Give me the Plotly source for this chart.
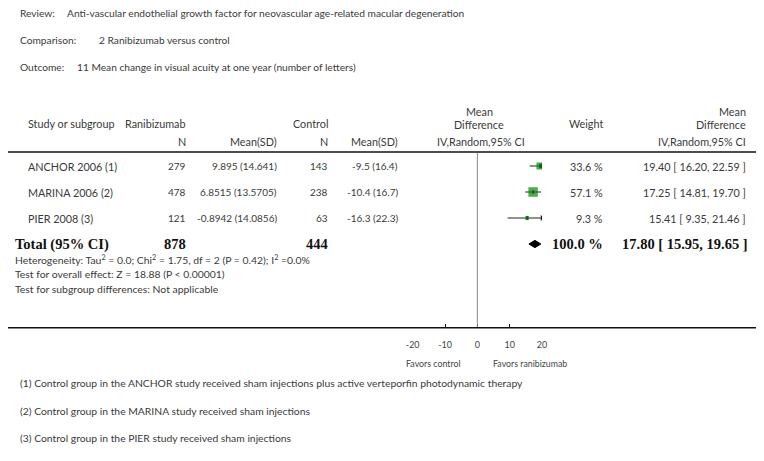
import plotly.graph_objects as go

W, H = 764, 461
OFF = 8  # page body margin in the browser

# ---------------- data ----------------
studies = ["ANCHOR 2006 (1)", "MARINA 2006 (2)", "PIER 2008 (3)"]
n_ran = [279, 478, 121]
mean_ran = [9.895, 6.8515, -0.8942]
sd_ran = [14.641, 13.5705, 14.0856]
n_ctl = [143, 238, 63]
mean_ctl = [-9.5, -10.4, -16.3]
sd_ctl = [16.4, 16.7, 22.3]
weights = [33.6, 57.1, 9.3]
md = [19.40, 17.25, 15.41]
md_lo = [16.20, 14.81, 9.35]
md_hi = [22.59, 19.70, 21.46]

total_n_ran = 878
total_n_ctl = 444
total_weight = 100.0
total_md = 17.80
total_lo = 15.95
total_hi = 19.65

tick_vals = [-20, -10, 0, 10, 20]
tick_text = ["-20", "-10", "0", "10", "20"]
x_limits = [-20, 20]

header_lines = [
    ("Review:", "Anti-vascular endothelial growth factor for neovascular age-related macular degeneration"),
    ("Comparison:", "2 Ranibizumab versus control"),
    ("Outcome:", "11 Mean change in visual acuity at one year (number of letters)"),
]
heterogeneity = [
    "Heterogeneity: Tau<sup>2</sup> = 0.0; Chi<sup>2</sup> = 1.75, df = 2 (P = 0.42); I<sup>2</sup> =0.0%",
    "Test for overall effect: Z = 18.88 (P < 0.00001)",
    "Test for subgroup differences: Not applicable",
]
footnotes = [
    "(1) Control group in the ANCHOR study received sham injections plus active verteporfin photodynamic therapy",
    "(2) Control group in the MARINA study received sham injections",
    "(3) Control group in the PIER study received sham injections",
]

# ---------------- layout helpers ----------------
FONT = "Lato"
SERIF = "Liberation Serif"
TXT = "#3a3a3a"
ROW0, ROWH = 166, 26.0
NUM = 10.0


def px(x):
    return (x - OFF) / W


def py(y):
    return 1 - (y - OFF) / H


ann = []


def text(s, x, y, anchor="left", size=10.8, color=TXT, family=FONT, yref="paper"):
    ann.append(dict(text=s, x=px(x), y=(py(y) if yref == "paper" else y), xref="paper", yref=yref,
                    xanchor=anchor, yanchor="middle", showarrow=False,
                    font=dict(family=family, size=size, color=color)))


# header block
hdr_y = [12.5, 39.5, 67]
val_x = [65, 97, 75]
for (lab, val), yy, vx in zip(header_lines, hdr_y, val_x):
    text(lab, 18, yy, size=10.2)
    text(val, vx, yy, size=10.2)

# column headers
text("Study or subgroup", 26, 124)
text("Ranibizumab", 188, 124, "right")
text("Control", 330, 124, "right")
text("N", 188, 142, "right")
text("Mean(SD)", 279, 142, "right")
text("N", 330, 142, "right")
text("Mean(SD)", 400, 142, "right")
text("Mean", 479, 111, "center")
text("Difference", 479, 124.5, "center")
text("IV,Random,95% CI", 481, 142, "center")
text("Weight", 605, 124, "right")
text("Mean", 748, 111, "right")
text("Difference", 748, 124.5, "right")
text("IV,Random,95% CI", 748, 142, "right")

# study rows
for i, s in enumerate(studies):
    text(s, 26, i, yref="y")
    text(str(n_ran[i]), 188, i, "right", size=NUM, yref="y")
    text(f"{mean_ran[i]} ({sd_ran[i]})", 279, i, "right", size=NUM, yref="y")
    text(str(n_ctl[i]), 330, i, "right", size=NUM, yref="y")
    text(f"{mean_ctl[i]} ({sd_ctl[i]})", 400, i, "right", size=NUM, yref="y")
    text(f"{weights[i]:.1f} %", 605, i, "right", yref="y")
    text(f"{md[i]:.2f} [ {md_lo[i]:.2f}, {md_hi[i]:.2f} ]", 748, i, "right", yref="y")

# total row
tr = len(studies)
BT = "#111111"
BS = 14.5
text("<b>Total (95% CI)</b>", 13, tr, size=BS, family=SERIF, color=BT, yref="y")
text(f"<b>{total_n_ran}</b>", 188, tr, "right", size=BS, family=SERIF, color=BT, yref="y")
text(f"<b>{total_n_ctl}</b>", 330, tr, "right", size=BS, family=SERIF, color=BT, yref="y")
text(f"<b>{total_weight:.1f} %</b>", 605, tr, "right", size=BS, family=SERIF, color=BT, yref="y")
text(f"<b>{total_md:.2f} [ {total_lo:.2f}, {total_hi:.2f} ]</b>", 750, tr, "right", size=BS,
     family=SERIF, color=BT, yref="y")

for s, yy in zip(heterogeneity, [259, 274, 288.5]):
    text(s, 13, yy, size=10.4)

for s, yy in zip(footnotes, [383, 411, 438]):
    text(s, 18, yy, size=10.35)

# favours labels
for s, xx in [("Favors control", -13.6), ("Favors ranibizumab", 16.4)]:
    ann.append(dict(text=s, x=xx, y=py(363), xref="x", yref="paper", xanchor="center",
                    yanchor="middle", showarrow=False, font=dict(family=FONT, size=8.8, color="#444")))

# ---------------- figure ----------------
fig = go.Figure()

rows = list(range(len(studies)))
for i in rows:
    lo_c = max(md_lo[i], x_limits[0])
    hi_c = min(md_hi[i], x_limits[1])
    fig.add_trace(go.Scatter(x=[lo_c, hi_c], y=[i, i], mode="lines",
                             line=dict(color="#222222", width=1), hoverinfo="skip", showlegend=False))
    if md_hi[i] > x_limits[1]:
        fig.add_trace(go.Scatter(x=[hi_c], y=[i], mode="markers",
                                 marker=dict(symbol="triangle-right", size=5, color="#222222"),
                                 hoverinfo="skip", showlegend=False))
    if md_lo[i] < x_limits[0]:
        fig.add_trace(go.Scatter(x=[lo_c], y=[i], mode="markers",
                                 marker=dict(symbol="triangle-left", size=5, color="#222222"),
                                 hoverinfo="skip", showlegend=False))

fig.add_trace(go.Scatter(x=md, y=rows, mode="markers",
                         marker=dict(symbol="square", color="#008a00",
                                     size=[1.25 * w ** 0.5 for w in weights],
                                     line=dict(width=0)),
                         hoverinfo="skip", showlegend=False))
fig.add_trace(go.Scatter(x=md, y=rows, mode="markers",
                         marker=dict(symbol="line-ns", size=3, line=dict(color="#113311", width=1)),
                         hoverinfo="skip", showlegend=False))

dh = 0.14
fig.add_trace(go.Scatter(x=[total_lo, total_md, total_hi, total_md, total_lo],
                         y=[tr, tr - dh, tr, tr + dh, tr], mode="lines", fill="toself",
                         fillcolor="black", line=dict(color="black", width=1),
                         hoverinfo="skip", showlegend=False))

shapes = [
    dict(type="line", xref="paper", yref="paper", x0=px(8), x1=px(757), y0=py(152), y1=py(152),
         line=dict(color="#111111", width=1.5)),
    dict(type="line", xref="paper", yref="paper", x0=px(8), x1=px(757), y0=py(327.7), y1=py(327.7),
         line=dict(color="#111111", width=1.5)),
    dict(type="line", xref="x", yref="paper", x0=0, x1=0, y0=py(153), y1=py(327),
         line=dict(color="#888888", width=1)),
]

fig.update_layout(
    width=W, height=H,
    margin=dict(l=0, r=0, t=0, b=0),
    paper_bgcolor="white", plot_bgcolor="rgba(0,0,0,0)",
    showlegend=False,
    annotations=ann, shapes=shapes,
    xaxis=dict(domain=[px(412.7), px(542)], range=x_limits, anchor="free", position=py(327.7),
               automargin=False, showline=False, showgrid=False, zeroline=False,
               ticks="inside", ticklen=4, tickcolor="#111111", tickwidth=1,
               tickvals=tick_vals, ticktext=tick_text, ticklabelstandoff=10,
               tickfont=dict(family=FONT, size=9, color="#444")),
    yaxis=dict(domain=[0, 1], range=[(H + OFF - ROW0) / ROWH, (OFF - ROW0) / ROWH],
               visible=False, automargin=False),
)

fig.write_html("out.html")
